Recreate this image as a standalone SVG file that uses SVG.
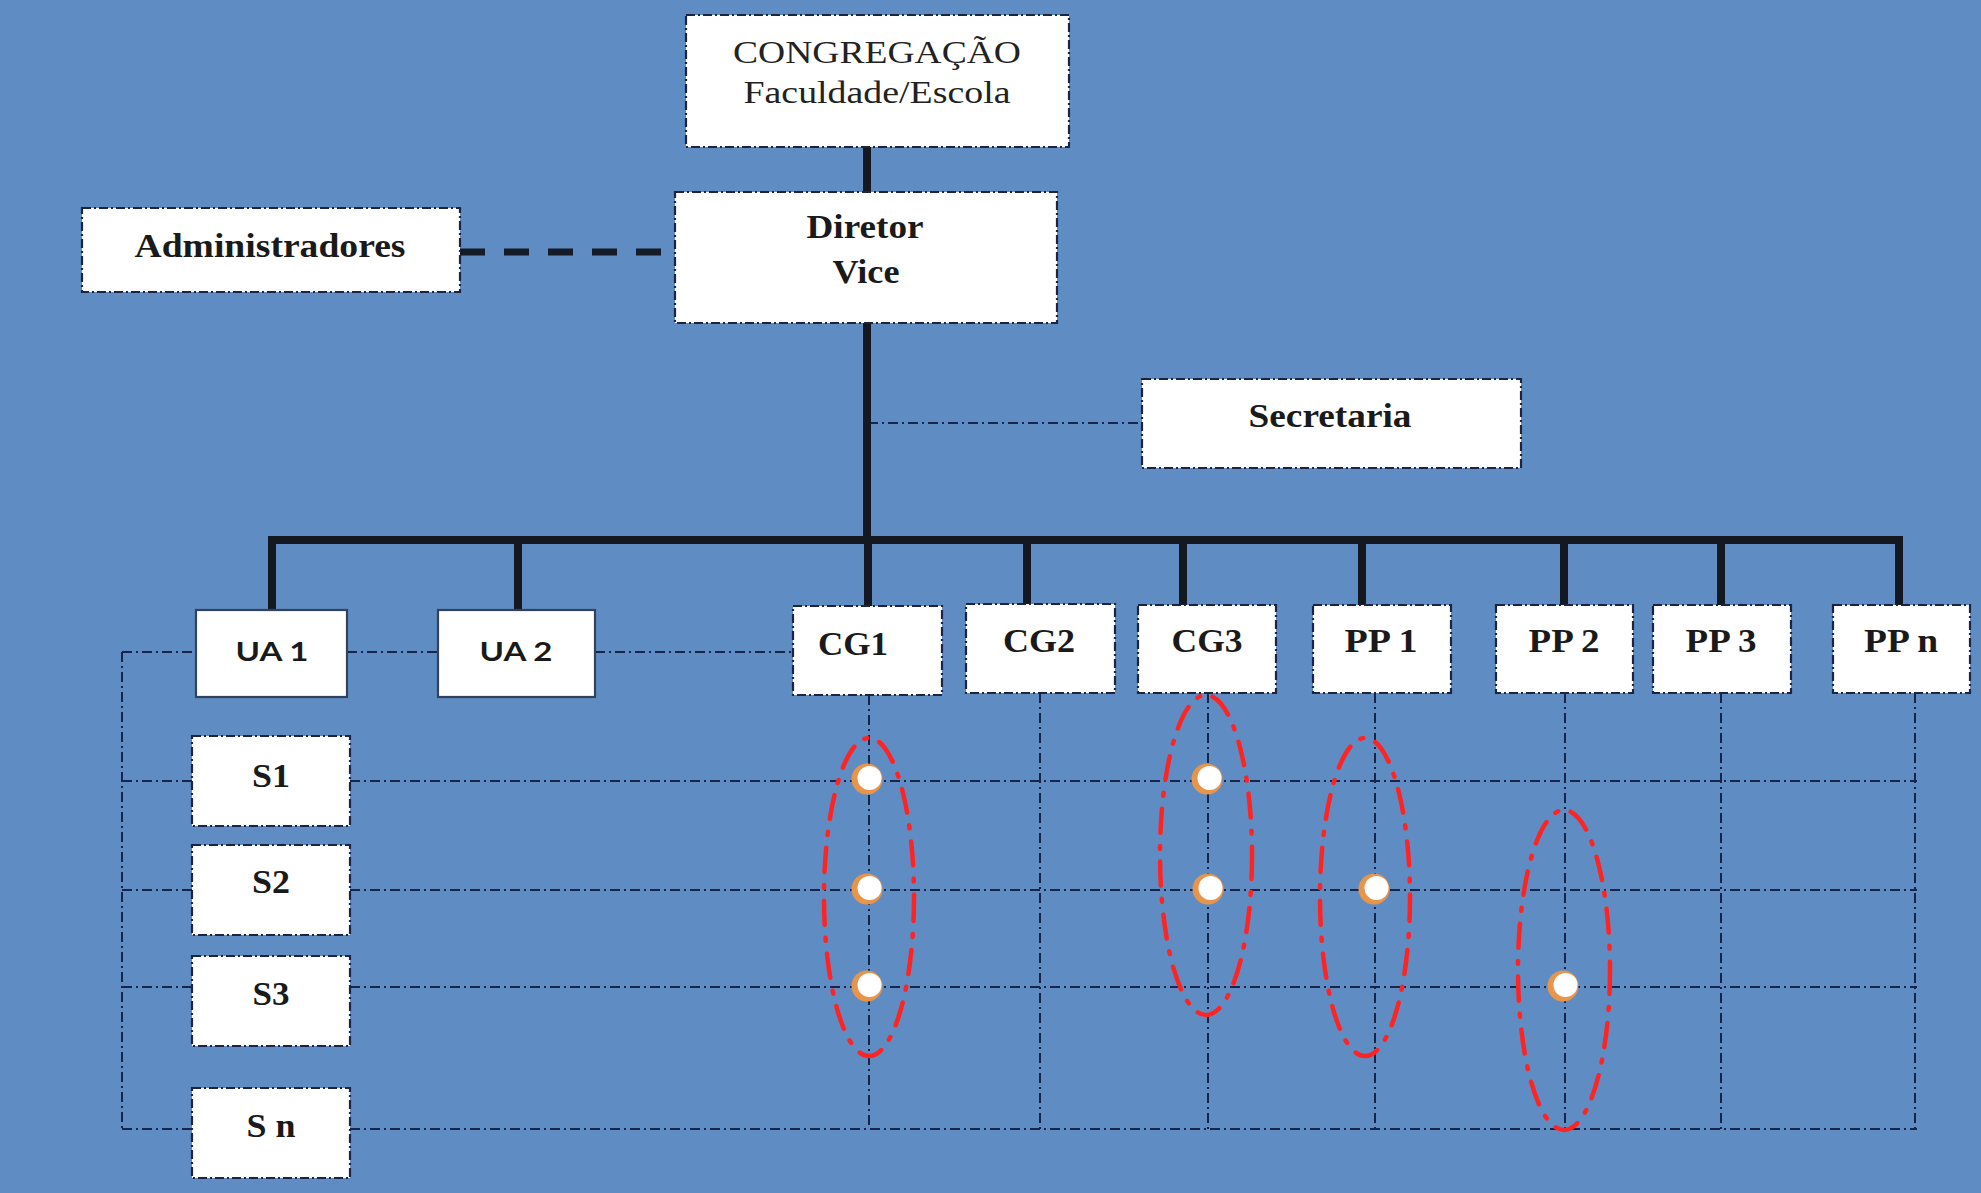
<svg xmlns="http://www.w3.org/2000/svg" width="1981" height="1193" viewBox="0 0 1981 1193">
  <style>
    .bg { fill: #5f8dc3; }
    .box { fill: #ffffff; stroke: #1b2440; stroke-width: 2.2; stroke-dasharray: 9 3 2 3; }
    .box-solid { fill: #ffffff; stroke: #34415c; stroke-width: 2.2; }
    .trunk { fill: none; stroke: #141821; stroke-width: 8; stroke-linecap: butt; stroke-linejoin: miter; }
    .assist { fill: none; stroke: #161b29; stroke-width: 7; stroke-dasharray: 25 19; }
    .grid { fill: none; stroke: #17254a; stroke-width: 2; stroke-dasharray: 10 4 2 4; }
    .group { fill: none; stroke: #ff2424; stroke-width: 4.5; stroke-dasharray: 24 13 3 13; stroke-linecap: round; }
    .lbl { font-family: "Liberation Serif", "Times New Roman", serif; font-size: 33px; font-weight: bold; fill: #1a1a1a; text-anchor: middle; }
    .lbl-reg { font-family: "Liberation Serif", "Times New Roman", serif; font-size: 32px; fill: #222222; text-anchor: middle; }
    .lbl-sans { font-family: "Lato", "Liberation Sans", Arial, sans-serif; font-size: 27px; font-weight: bold; fill: #1a1a1a; text-anchor: middle; }
  </style>
  <defs>
    <g id="dot">
      <circle cx="0" cy="0" r="15.5" fill="#e8944a"/>
      <circle cx="2.5" cy="-1" r="12" fill="#ffffff"/>
    </g>
  </defs>

  <rect class="bg" x="0" y="0" width="1981" height="1193"/>

  <!-- connectors -->
  <g id="connectors">
    <!-- matrix grid: unit rows and course columns -->
    <g id="grid">
      <path class="grid" d="M122 652 H196 M347 652 H438 M595 652 H793"/>
      <path class="grid" d="M122 652 V1129"/>
      <path class="grid" d="M122 781 H192 M350 781 H1917"/>
      <path class="grid" d="M122 890 H192 M350 890 H1917"/>
      <path class="grid" d="M122 987 H192 M350 987 H1917"/>
      <path class="grid" d="M122 1129 H192 M350 1129 H1917"/>
      <path class="grid" d="M869 695 V1129 M1040 693 V1129 M1208 693 V1129 M1375 693 V1129 M1565 693 V1129 M1721 693 V1129 M1915 693 V1129"/>
      <path class="grid" d="M868 423 H1142"/>
    </g>
    <!-- hierarchy lines -->
    <path class="trunk" d="M867 147 V192 M867 323 V540"/>
    <path class="trunk" d="M272 610 V540 H1899 V605"/>
    <path class="trunk" d="M518 540 V610 M868 540 V606 M1027 540 V604 M1183 540 V605 M1362 540 V605 M1564 540 V605 M1721 540 V605"/>
    <path class="assist" d="M460 252 H664"/>
    <!-- groupings -->
    <ellipse class="group" cx="869" cy="897" rx="45" ry="159"/>
    <ellipse class="group" cx="1206" cy="855" rx="46" ry="160"/>
    <ellipse class="group" cx="1365" cy="897" rx="45" ry="159"/>
    <ellipse class="group" cx="1564" cy="970" rx="46" ry="160"/>
    <!-- participation markers -->
    <use href="#dot" x="867" y="779"/>
    <use href="#dot" x="867" y="889"/>
    <use href="#dot" x="867" y="986"/>
    <use href="#dot" x="1207" y="779"/>
    <use href="#dot" x="1208" y="889"/>
    <use href="#dot" x="1374" y="889"/>
    <use href="#dot" x="1563" y="986"/>
  </g>

  <g id="congregacao">
    <rect class="box" x="686" y="15" width="383" height="132"/>
    <text class="lbl-reg" x="877" y="63" textLength="288" lengthAdjust="spacingAndGlyphs">CONGREGAÇÃO</text>
    <text class="lbl-reg" x="877" y="103" textLength="267" lengthAdjust="spacingAndGlyphs">Faculdade/Escola</text>
  </g>
  <g id="diretor">
    <rect class="box" x="675" y="192" width="382" height="131"/>
    <text class="lbl" x="865" y="238" textLength="117" lengthAdjust="spacingAndGlyphs">Diretor</text>
    <text class="lbl" x="866" y="283" textLength="67" lengthAdjust="spacingAndGlyphs">Vice</text>
  </g>
  <g id="administradores">
    <rect class="box" x="82" y="208" width="378" height="84"/>
    <text class="lbl" x="270" y="257" textLength="271" lengthAdjust="spacingAndGlyphs">Administradores</text>
  </g>
  <g id="secretaria">
    <rect class="box" x="1142" y="379" width="379" height="89"/>
    <text class="lbl" x="1330" y="427" textLength="163" lengthAdjust="spacingAndGlyphs">Secretaria</text>
  </g>

  <g id="ua1">
    <rect class="box-solid" x="196" y="610" width="151" height="87"/>
    <text class="lbl-sans" x="272" y="661" textLength="73" lengthAdjust="spacingAndGlyphs">UA 1</text>
  </g>
  <g id="ua2">
    <rect class="box-solid" x="438" y="610" width="157" height="87"/>
    <text class="lbl-sans" x="516" y="661" textLength="73" lengthAdjust="spacingAndGlyphs">UA 2</text>
  </g>
  <g id="cg1">
    <rect class="box" x="793" y="606" width="149" height="89"/>
    <text class="lbl" x="853" y="655" textLength="70" lengthAdjust="spacingAndGlyphs">CG1</text>
  </g>
  <g id="cg2">
    <rect class="box" x="966" y="604" width="149" height="89"/>
    <text class="lbl" x="1039" y="652" textLength="72" lengthAdjust="spacingAndGlyphs">CG2</text>
  </g>
  <g id="cg3">
    <rect class="box" x="1138" y="605" width="138" height="88"/>
    <text class="lbl" x="1207" y="652" textLength="71" lengthAdjust="spacingAndGlyphs">CG3</text>
  </g>
  <g id="pp1">
    <rect class="box" x="1313" y="605" width="138" height="88"/>
    <text class="lbl" x="1381" y="652" textLength="73" lengthAdjust="spacingAndGlyphs">PP 1</text>
  </g>
  <g id="pp2">
    <rect class="box" x="1496" y="605" width="137" height="88"/>
    <text class="lbl" x="1564" y="652" textLength="71" lengthAdjust="spacingAndGlyphs">PP 2</text>
  </g>
  <g id="pp3">
    <rect class="box" x="1653" y="605" width="138" height="88"/>
    <text class="lbl" x="1721" y="652" textLength="71" lengthAdjust="spacingAndGlyphs">PP 3</text>
  </g>
  <g id="ppn">
    <rect class="box" x="1833" y="605" width="137" height="88"/>
    <text class="lbl" x="1901" y="652" textLength="74" lengthAdjust="spacingAndGlyphs">PP n</text>
  </g>

  <g id="s1">
    <rect class="box" x="192" y="736" width="158" height="90"/>
    <text class="lbl" x="271" y="787" textLength="38" lengthAdjust="spacingAndGlyphs">S1</text>
  </g>
  <g id="s2">
    <rect class="box" x="192" y="845" width="158" height="90"/>
    <text class="lbl" x="271" y="893" textLength="38" lengthAdjust="spacingAndGlyphs">S2</text>
  </g>
  <g id="s3">
    <rect class="box" x="192" y="956" width="158" height="90"/>
    <text class="lbl" x="271" y="1005" textLength="37" lengthAdjust="spacingAndGlyphs">S3</text>
  </g>
  <g id="sn">
    <rect class="box" x="192" y="1088" width="158" height="90"/>
    <text class="lbl" x="271" y="1137" textLength="49" lengthAdjust="spacingAndGlyphs">S n</text>
  </g>
</svg>
